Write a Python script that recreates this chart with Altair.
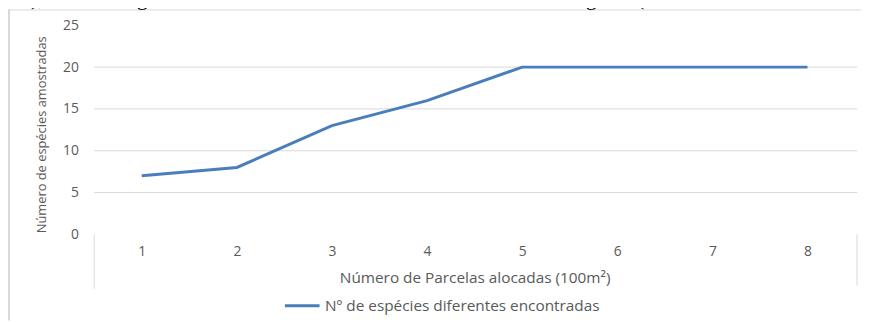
import altair as alt
import pandas as pd

# ---- data -------------------------------------------------------------
parcelas = [1, 2, 3, 4, 5, 6, 7, 8]
especies = [7, 8, 13, 16, 20, 20, 20, 20]
serie_nome = "Nº de espécies diferentes encontradas"
y_ticks = [0, 5, 10, 15, 20, 25]
y_grid = [5, 10, 15, 20]
x_title = "Número de Parcelas alocadas (100m²)"
y_title = "Número de espécies amostradas"
texto_topo = "a 5), método regularmente utilizada em levantamentos fitossociológicos (CONB"

df = pd.DataFrame({"parcela": parcelas, "especies": especies,
                   "serie": [serie_nome] * len(parcelas)})
df_grid = pd.DataFrame({"especies": y_grid})
one = pd.DataFrame({"k": [0]})

# ---- style ------------------------------------------------------------
W, H = 768, 211
FONT = "Open Sans"
GRAY = "#595959"
BLUE = "#4a7ebb"
GRID = "#d9d9d9"

yscale = alt.Scale(domain=[0, 25], nice=False, zero=True)
yaxis = alt.Axis(title=y_title, values=y_ticks, grid=False, domain=False,
                 ticks=False, labelPadding=16, labelFontSize=14,
                 titleFontSize=13, titleFontWeight="normal",
                 labelColor=GRAY, titleColor=GRAY, labelFont=FONT,
                 titleFont=FONT, titleX=-53, titleY=110,
                 titleAngle=270, titleAlign="center", titleBaseline="middle")

grid = alt.Chart(df_grid).mark_rule(color=GRID, strokeWidth=1).encode(
    y=alt.Y("especies:Q", scale=yscale, axis=yaxis),
    x=alt.value(0), x2=alt.value(W + 2),
)

edges = alt.Chart(one).mark_rule(color=GRID, strokeWidth=1).encode(
    x=alt.value(0), y=alt.value(H), y2=alt.value(H + 55))
edges2 = alt.Chart(one).mark_rule(color=GRID, strokeWidth=1).encode(
    x=alt.value(W + 2), y=alt.value(H), y2=alt.value(H + 52))

frame_left = alt.Chart(one).mark_rule(color=GRID, strokeWidth=2).encode(
    x=alt.value(-86), y=alt.value(-16), y2=alt.value(H + 87))
frame_top = alt.Chart(one).mark_rule(color=GRID, strokeWidth=1).encode(
    x=alt.value(-87), x2=alt.value(W + 6), y=alt.value(-15.5))

header = alt.Chart(one).mark_text(
    font="Liberation Serif", fontSize=22, color="black", align="left",
    baseline="alphabetic").encode(
    x=alt.value(-90), y=alt.value(-21), text=alt.value(texto_topo))

line = alt.Chart(df).mark_line(strokeWidth=3).encode(
    x=alt.X("parcela:O", scale=alt.Scale(padding=0.5),
            axis=alt.Axis(title=x_title, labelAngle=0, domain=False, ticks=False,
                          labelPadding=10, titlePadding=13, labelFontSize=14,
                          titleFontSize=15.5, titleFontWeight="normal",
                          labelColor=GRAY, titleColor=GRAY,
                          labelFont=FONT, titleFont=FONT)),
    y=alt.Y("especies:Q", scale=yscale, axis=yaxis),
    color=alt.Color("serie:N", scale=alt.Scale(range=[BLUE]),
                    legend=alt.Legend(title=None, orient="none", legendX=191,
                                      legendY=264, symbolType="stroke",
                                      symbolSize=1225, symbolStrokeWidth=3,
                                      labelFontSize=15.5, labelColor=GRAY,
                                      labelFont=FONT, labelOffset=4,
                                      labelLimit=0)),
)

chart = alt.layer(frame_left, frame_top, header, grid, edges, edges2, line).properties(
    width=W, height=H,
    padding={"left": 87, "top": 16, "right": 6, "bottom": 87},
    autosize=alt.AutoSizeParams(type="none"),
    background="white",
).configure_view(stroke=None)

chart.save("out.html", embed_options={"renderer": "svg", "actions": False})
